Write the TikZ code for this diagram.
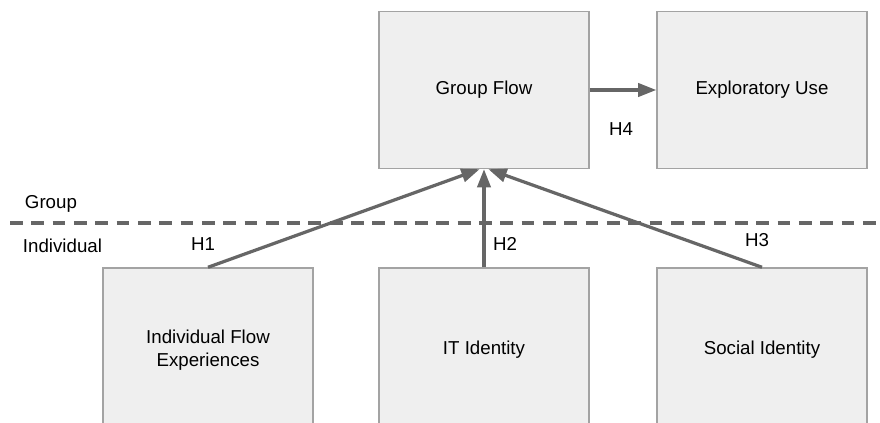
\documentclass[tikz,border=0pt]{standalone}
\usepackage{fontspec}
\setmainfont{Liberation Sans}
\usetikzlibrary{arrows.meta,positioning}
\definecolor{boxfill}{HTML}{EFEFEF}
\definecolor{boxline}{HTML}{A3A3A3}
\definecolor{linkgray}{HTML}{666666}
\tikzset{
factor/.style={draw=boxline, line width=1pt, fill=boxfill,
               minimum width=5.25cm, minimum height=3.925cm,
               inner sep=0pt, align=center,
               font=\fontsize{13.3}{16}\selectfont},
hyp/.style={draw=linkgray, line width=2.3pt,
            -{Triangle[length=13pt,width=9.5pt]}},
lbl/.style={font=\fontsize{13.3}{16}\selectfont}
}

\begin{document}
\begin{tikzpicture}
  \useasboundingbox (0,0) rectangle (22,-10.575);
  % group level
  \node[factor] (gf) at (12.1,-2.25) {Group Flow};
  \node[factor] (eu) at (19.05,-2.25) {Exploratory Use};
  % individual level (boxes run off the bottom edge)
  \node[factor, minimum height=4.1cm] (ifx) at (5.2,-8.75) {Individual Flow\\Experiences};
  \node[factor, minimum height=4.1cm] (iti) at (12.1,-8.75) {IT Identity};
  \node[factor, minimum height=4.1cm] (soc) at (19.05,-8.75) {Social Identity};

  \draw[linkgray, line width=2.3pt, dash pattern=on 0.32cm off 0.213cm] (0.25,-5.575) -- (22,-5.575);
  \node[lbl, anchor=west] (grp) at (0.5,-5.1) {Group};
  \node[lbl, anchor=west] (ind) at (0.45,-6.15) {Individual};

  \draw[hyp] (ifx.north) -- ([xshift=-0.11cm]gf.south);
  \draw[hyp] (iti.north) -- (gf.south);
  \draw[hyp] (soc.north) -- ([xshift=0.11cm]gf.south);
  \draw[hyp] (gf.east) -- (eu.west);

  \node[lbl] (h1) at (5.075,-6.1) {H1};
  \node[lbl] (h2) at (12.625,-6.1) {H2};
  \node[lbl] (h3) at (18.925,-6.0) {H3};
  \node[lbl] (h4) at (15.525,-3.225) {H4};
\end{tikzpicture}
\end{document}
